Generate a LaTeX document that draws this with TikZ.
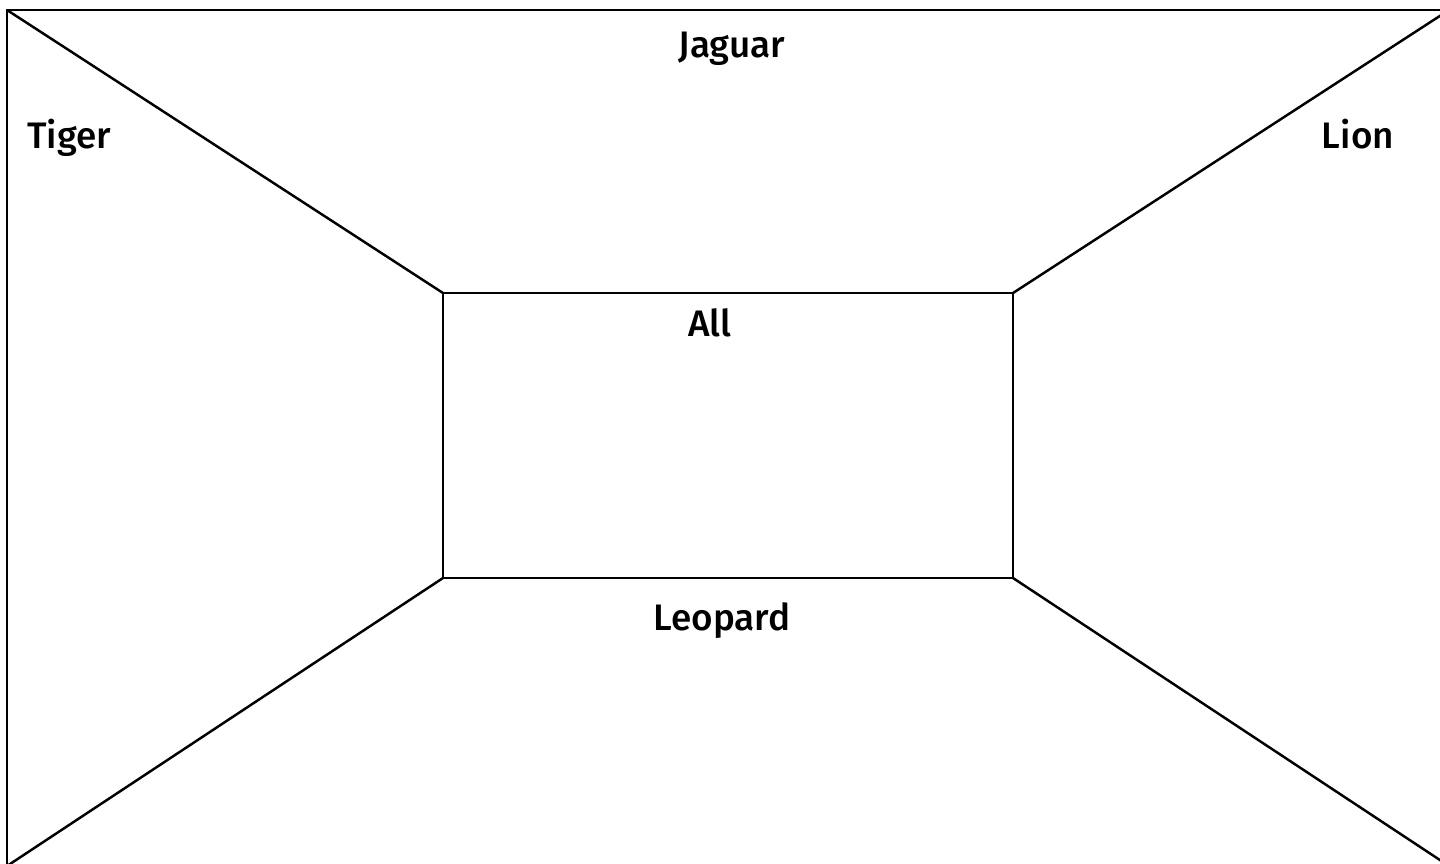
\documentclass[tikz,border=0pt]{standalone}
\usepackage{fontspec}
\setmainfont{Fira Sans}[UprightFont={* Medium}]
\begin{document}
\begin{tikzpicture}[x=0.02cm,y=-0.02cm,line width=1.4pt,font=\fontsize{21}{26}\selectfont]
			\useasboundingbox (0,0) rectangle (1440,863);
			\path
			(7,10) coordinate (P)
			(1449,10) coordinate (Q)
			(1449,866) coordinate (R)
			(7,866) coordinate (S)
			(443,293) coordinate (A)
			(1013,293) coordinate (B)
			(1013,578) coordinate (C)
			(443,578) coordinate (D);
			\begin{scope}
				\clip (0,0) rectangle (1440,863);
				\draw (P)--(Q)--(R)--(S)--cycle;
				\draw (P)--(A) (Q)--(B) (R)--(C) (S)--(D);
			\end{scope}
			\draw (A)--(B)--(C)--(D)--cycle;
			\foreach \n/\x/\y in {Jaguar/732/57,Tiger/69/148,Lion/1358/148,All/710/336,Leopard/722/630} \node[anchor=base] (\n) at (\x,\y) {\n};
		\end{tikzpicture}
\end{document}
